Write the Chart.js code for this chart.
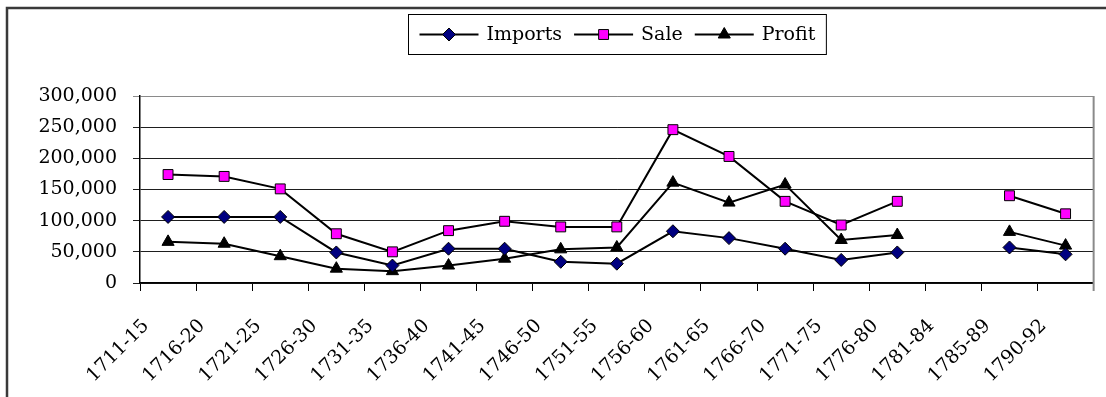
<!DOCTYPE html>
<html>
<head>
<meta charset="utf-8">
<script src="https://cdn.jsdelivr.net/npm/chart.js@4.4.1/dist/chart.umd.min.js"></script>
<style>
  html, body { margin: 0; padding: 0; background: #fff; }
  canvas { display: block; }
</style>
</head>
<body>
<canvas id="chart-1" width="1106" height="397"></canvas>
<script>
const periods = ["1711-15", "1716-20", "1721-25", "1726-30", "1731-35", "1736-40", "1741-45", "1746-50", "1751-55",
  "1756-60", "1761-65", "1766-70", "1771-75", "1776-80", "1781-84", "1785-89", "1790-92"];
const imports = [106000, 106000, 106000, 49000, 28000, 55000, 55000, 34000, 31000, 83000, 72000, 55000, 37000, 49000, null, 57000, 46000];
const sale = [174000, 171000, 151000, 79000, 50000, 84000, 99000, 90000, 90000, 246000, 203000, 131000, 93000, 131000, null, 140000, 111000];
const profit = [66000, 63000, 43000, 23000, 19000, 28000, 39000, 54000, 57000, 161000, 129000, 158000, 69000, 77000, null, 82000, 60000];
const yMax = 300000;
const yStep = 50000;

const serif = "'DejaVu Serif', 'Liberation Serif', serif";

// outer frame (only the top and left edges fall inside the canvas) + grey plot border on the right
const framePlugin = {
  id: "frame",
  beforeDraw(chart) {
    const ctx = chart.ctx;
    ctx.save();
    ctx.fillStyle = "#fff";
    ctx.fillRect(0, 0, chart.width, chart.height);
    ctx.strokeStyle = "#3a3a3a";
    ctx.lineWidth = 2.5;
    ctx.beginPath();
    ctx.moveTo(7, chart.height);
    ctx.lineTo(7, 8);
    ctx.lineTo(chart.width, 8);
    ctx.stroke();
    ctx.restore();
  },
  beforeDatasetsDraw(chart) {
    const { ctx, chartArea } = chart;
    ctx.save();
    ctx.strokeStyle = "#8a8a8a";
    ctx.lineWidth = 2;
    ctx.beginPath();
    ctx.moveTo(chartArea.right, chartArea.top);
    ctx.lineTo(chartArea.right, chartArea.bottom + 8);
    ctx.stroke();
    ctx.restore();
  },
};

// legend in a bordered box: line segment with the marker in the middle, then the label
const boxedLegend = {
  id: "boxedLegend",
  afterDraw(chart) {
    const ctx = chart.ctx;
    const seg = 59, gap = 8, sep = 12, pad = 11, h = 40, top = 14.5;
    ctx.save();
    ctx.font = "19px " + serif;
    const items = chart.data.datasets.map((ds) => ({ ds, w: ctx.measureText(ds.label).width }));
    const total = pad * 2 + items.reduce((s, it) => s + seg + gap + it.w, 0) + sep * (items.length - 1);
    const cx = (chart.chartArea.left + chart.chartArea.right) / 2;
    const left = Math.round(cx - total / 2) + 0.5;
    ctx.fillStyle = "#fff";
    ctx.fillRect(left, top, total, h);
    ctx.strokeStyle = "#000";
    ctx.lineWidth = 1;
    ctx.strokeRect(left, top, total, h);

    const y = top + h / 2;
    let x = left + pad;
    items.forEach(({ ds, w }) => {
      ctx.strokeStyle = ds.borderColor;
      ctx.lineWidth = ds.borderWidth;
      ctx.beginPath();
      ctx.moveTo(x, y);
      ctx.lineTo(x + seg, y);
      ctx.stroke();
      ctx.fillStyle = ds.pointBackgroundColor;
      ctx.strokeStyle = ds.pointBorderColor;
      ctx.lineWidth = ds.pointBorderWidth;
      Chart.helpers.drawPoint(ctx, {
        pointStyle: ds.pointStyle, rotation: 0, radius: ds.pointRadius, borderWidth: ds.pointBorderWidth,
      }, x + seg / 2, y);
      ctx.fillStyle = "#000";
      ctx.textAlign = "left";
      ctx.textBaseline = "middle";
      ctx.fillText(ds.label, x + seg + gap, y + 1);
      x += seg + gap + w + sep;
    });
    ctx.restore();
  },
};

const chart1 = new Chart(document.getElementById("chart-1"), {
  type: "line",
  data: {
    labels: periods,
    datasets: [
      {
        label: "Imports",
        data: imports,
        borderColor: "#000",
        borderWidth: 2,
        pointStyle: "rectRot",
        pointRadius: 6.5,
        pointBackgroundColor: "#000080",
        pointBorderColor: "#000",
        pointBorderWidth: 1,
      },
      {
        label: "Sale",
        data: sale,
        borderColor: "#000",
        borderWidth: 2,
        pointStyle: "rect",
        pointRadius: 7,
        pointBackgroundColor: "#ff00ff",
        pointBorderColor: "#000",
        pointBorderWidth: 1,
      },
      {
        label: "Profit",
        data: profit,
        borderColor: "#000",
        borderWidth: 2,
        pointStyle: "triangle",
        pointRadius: 7,
        pointBackgroundColor: "#000",
        pointBorderColor: "#000",
        pointBorderWidth: 1,
      },
    ],
  },
  options: {
    responsive: false,
    animation: false,
    devicePixelRatio: 1,
    spanGaps: false,
    layout: { padding: { top: 96, right: 10, left: 0, bottom: 0 } },
    plugins: {
      legend: { display: false },
      tooltip: { enabled: false },
    },
    elements: { line: { tension: 0 } },
    scales: {
      x: {
        type: "category",
        offset: true,
        afterFit: (scale) => { scale.height = 114; },
        grid: { offset: true, drawOnChartArea: false, tickLength: 8, color: "#000" },
        border: { color: "#000", width: 1.5 },
        ticks: {
          autoSkip: false,
          minRotation: 45,
          maxRotation: 45,
          padding: 24,
          labelOffset: -22,
          color: "#000",
          font: { family: serif, size: 19 },
        },
      },
      y: {
        min: 0,
        max: yMax,
        afterFit: (scale) => { scale.width = 140; },
        grid: {
          tickLength: 7,
          lineWidth: 1,
          color: (c) => (c.tick && c.tick.value === yMax ? "#8a8a8a" : "#1e1e1e"),
        },
        border: { color: "#000", width: 1.5 },
        ticks: {
          stepSize: yStep,
          padding: 16,
          color: "#000",
          font: { family: serif, size: 19 },
          callback: (v) => v.toLocaleString("en-US"),
        },
      },
    },
  },
  plugins: [framePlugin, boxedLegend],
});
</script>
</body>
</html>
